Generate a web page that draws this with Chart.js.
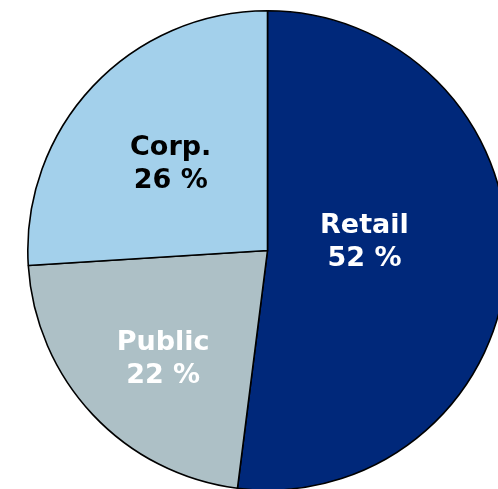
<!DOCTYPE html>
<html>
<head>
<meta charset="utf-8">
<script src="https://cdn.jsdelivr.net/npm/chart.js@4/dist/chart.umd.min.js"></script>
<style>
  html, body { margin: 0; padding: 0; background: #ffffff; overflow: hidden; }
  body { width: 498px; height: 489px; position: relative; }
  #wrap { position: absolute; left: 25px; top: 8px; width: 485px; height: 485px; }
</style>
</head>
<body>
<div id="wrap"><canvas id="share-pie"></canvas></div>
<script>
  // Anteile der Kundensegmente (Prozent)
  const SEGMENTS = ["Retail", "Public", "Corp."];
  const SHARES = [52, 22, 26];
  const SEG_COLORS = ["#00287a", "#adc0c6", "#a3d0eb"];
  const LABEL_COLORS = ["#ffffff", "#ffffff", "#000000"];

  // Beschriftung: Abstand vom Mittelpunkt (Anteil am Radius) und Winkelkorrektur in Grad
  const LABEL_RADIUS = [0.406, 0.629, 0.541];
  const LABEL_TURN = [-8.6, -3.0, -1.5];

  const sliceLabels = {
    id: "sliceLabels",
    afterDatasetsDraw(chart) {
      const ctx = chart.ctx;
      const arcs = chart.getDatasetMeta(0).data;
      ctx.save();
      ctx.font = "bold 27px 'DejaVu Sans', sans-serif";
      ctx.textAlign = "center";
      ctx.textBaseline = "middle";
      arcs.forEach(function (arc, i) {
        const p = arc.getProps(["x", "y", "startAngle", "endAngle", "outerRadius"], true);
        const mid = (p.startAngle + p.endAngle) / 2 + LABEL_TURN[i] * Math.PI / 180;
        const r = p.outerRadius * LABEL_RADIUS[i];
        const cx = p.x + Math.cos(mid) * r;
        const cy = p.y + Math.sin(mid) * r;
        ctx.fillStyle = LABEL_COLORS[i];
        ctx.fillText(SEGMENTS[i], cx, cy - 16.5);
        ctx.fillText(chart.data.datasets[0].data[i] + " %", cx, cy + 16.5);
      });
      ctx.restore();
    },
  };

  new Chart(document.getElementById("share-pie"), {
    type: "pie",
    data: {
      labels: SEGMENTS,
      datasets: [{
        data: SHARES,
        backgroundColor: SEG_COLORS,
        borderColor: "#000000",
        borderWidth: 1.6,
      }],
    },
    options: {
      responsive: true,
      maintainAspectRatio: false,
      animation: false,
      layout: { padding: 2 },
      plugins: {
        legend: { display: false },
        tooltip: { enabled: false },
      },
    },
    plugins: [sliceLabels],
  });
</script>
</body>
</html>
